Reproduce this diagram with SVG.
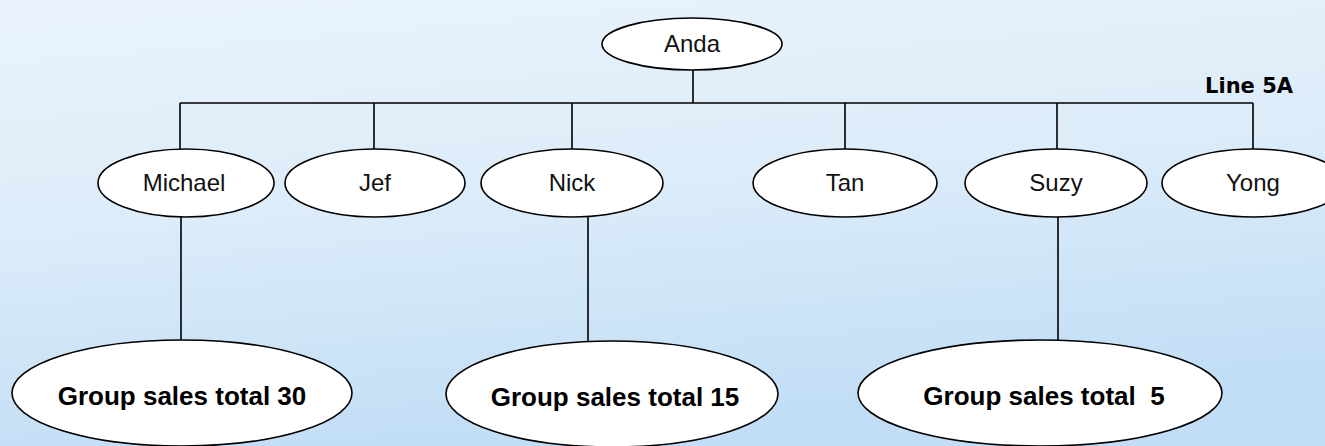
<svg xmlns="http://www.w3.org/2000/svg" width="1325" height="446" viewBox="0 0 1325 446">
<defs>
<linearGradient id="bg" x1="0" y1="0" x2="0.25" y2="1">
<stop offset="0" stop-color="#eaf3fb"/>
<stop offset="0.5" stop-color="#dcecf9"/>
<stop offset="1" stop-color="#c2def6"/>
</linearGradient>
<style>
.n{fill:#fff;stroke:#000;stroke-width:1.6}
.t{font-family:"Liberation Sans",Arial,sans-serif;font-size:24px;fill:#111;text-anchor:middle}
.b{font-family:"Liberation Sans",Arial,sans-serif;font-size:26px;font-weight:bold;fill:#000;text-anchor:middle}
.c{stroke:#000;stroke-width:1.6;fill:none}
</style>
</defs>
<rect width="1325" height="446" fill="url(#bg)"/>
<g id="connectors">
<path class="c" d="M693 70V103M180 103H1253M180 103V149M374 103V149M572 103V149M845 103V149M1057 103V149M1253 103V149"/>
<path class="c" d="M181 217V340M588 217V342M1058 217V342"/>
</g>
<g id="anda"><ellipse class="n" cx="692" cy="44" rx="90" ry="26"/><text class="t" x="692" y="52">Anda</text></g>
<g id="michael"><ellipse class="n" cx="186" cy="183" rx="88" ry="34"/><text class="t" x="184" y="191">Michael</text></g>
<g id="jef"><ellipse class="n" cx="375" cy="183" rx="90" ry="34"/><text class="t" x="375" y="191">Jef</text></g>
<g id="nick"><ellipse class="n" cx="572" cy="183" rx="91" ry="34"/><text class="t" x="572" y="191">Nick</text></g>
<g id="tan"><ellipse class="n" cx="845" cy="183" rx="92" ry="34"/><text class="t" x="845" y="191">Tan</text></g>
<g id="suzy"><ellipse class="n" cx="1056" cy="183" rx="91" ry="34"/><text class="t" x="1056" y="191">Suzy</text></g>
<g id="yong"><ellipse class="n" cx="1253" cy="183" rx="91" ry="34"/><text class="t" x="1253" y="191">Yong</text></g>
<g id="g30"><ellipse class="n" cx="182" cy="393" rx="170" ry="53"/><text class="b" x="182" y="405">Group sales total 30</text></g>
<g id="g15"><ellipse class="n" cx="612" cy="394" rx="166" ry="53"/><text class="b" x="615" y="406">Group sales total 15</text></g>
<g id="g5"><ellipse class="n" cx="1040" cy="393" rx="182" ry="53"/><text class="b" x="1044" y="405" xml:space="preserve">Group sales total  5</text></g>
<text x="1293" y="93" font-family="DejaVu Sans,sans-serif" font-size="21" font-weight="bold" text-anchor="end" fill="#000">Line 5A</text>
</svg>
